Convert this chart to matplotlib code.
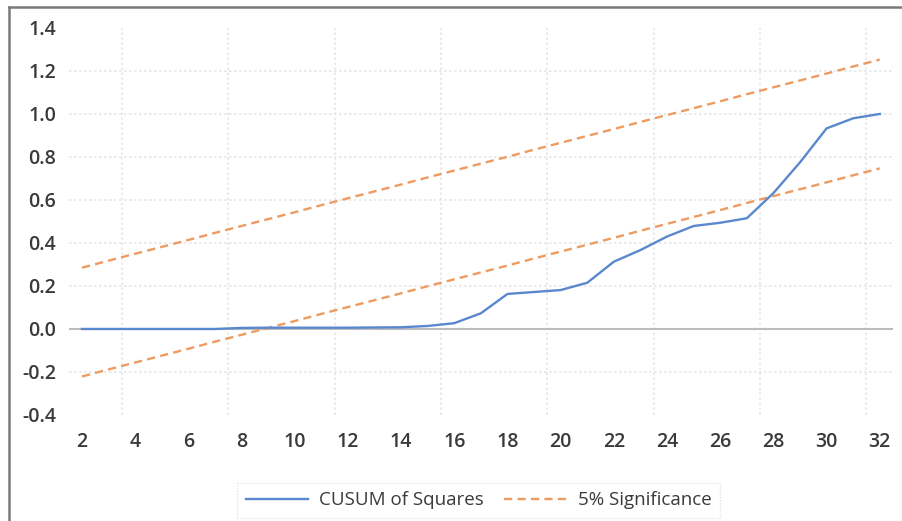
import matplotlib

matplotlib.use("Agg")
import matplotlib.pyplot as plt
from matplotlib.lines import Line2D

plt.rcParams["font.family"] = ["Open Sans", "DejaVu Sans"]

# Daten
periods = list(range(2, 33))
cusum_sq = [0.0, 0.0, 0.0, 0.0, 0.0, 0.0, 0.005, 0.006, 0.006, 0.006,
            0.006, 0.007, 0.008, 0.014, 0.027, 0.073, 0.163, 0.172, 0.181, 0.215,
            0.313, 0.367, 0.43, 0.479, 0.494, 0.515, 0.632, 0.775, 0.933, 0.98,
            1.0]
upper_5 = [0.285, 0.318, 0.350, 0.382, 0.414, 0.447, 0.479, 0.511, 0.543, 0.576,
           0.608, 0.640, 0.672, 0.705, 0.737, 0.769, 0.801, 0.834, 0.866, 0.898,
           0.930, 0.963, 0.995, 1.027, 1.059, 1.092, 1.124, 1.156, 1.188, 1.221,
           1.253]
lower_5 = [-0.221, -0.188, -0.156, -0.124, -0.092, -0.059, -0.027, 0.005, 0.037, 0.070,
           0.102, 0.134, 0.166, 0.199, 0.231, 0.263, 0.295, 0.328, 0.360, 0.392,
           0.424, 0.457, 0.489, 0.521, 0.553, 0.586, 0.618, 0.650, 0.682, 0.715,
           0.747]
y_ticks = [-0.4, -0.2, 0.0, 0.2, 0.4, 0.6, 0.8, 1.0, 1.2, 1.4]
x_ticks = list(range(2, 33, 2))

BLUE = "#5a88cf"
ORANGE = "#ee9b62"
TXT = "#3a3a3a"
GRID = "#e6e6e6"

fig = plt.figure(figsize=(9.03, 5.21), dpi=100)
ax = fig.add_axes([0.0761, 0.2035, 0.989 - 0.0761, 0.7428])

# Gitter: horizontal gepunktet, Nulllinie durchgezogen
for yv in y_ticks:
    if yv == 0.0:
        ax.axhline(yv, color="#bcbcbc", lw=1.5, zorder=1)
    elif -0.4 < yv < 1.4:
        ax.axhline(yv, color=GRID, lw=1.2, ls=(0, (1.5, 1.5)), zorder=0)
# vertikale Linien zwischen den Kategorien, alle 4 Perioden
for xv in range(4, 33, 4):
    ax.axvline(xv - 0.5, color=GRID, lw=1.2, ls=(0, (1.5, 1.5)), zorder=0)

ax.plot(periods, cusum_sq, color=BLUE, lw=1.7, label="CUSUM of Squares", zorder=3)
ax.plot(periods, upper_5, color=ORANGE, lw=1.7, ls=(0, (3.5, 2.2)),
        label="5% Significance", zorder=2)
ax.plot(periods, lower_5, color=ORANGE, lw=1.7, ls=(0, (3.5, 2.2)), zorder=2)

ax.set_xlim(1.5, 32.5)
ax.set_ylim(-0.4, 1.4)
ax.set_xticks(x_ticks)
ax.set_yticks(y_ticks)
ax.set_yticklabels([f"{v:.1f}" for v in y_ticks])
ax.tick_params(axis="both", length=0, labelsize=14, colors=TXT)
ax.tick_params(axis="x", pad=12)
ax.tick_params(axis="y", pad=9)
for lbl in ax.get_xticklabels() + ax.get_yticklabels():
    lbl.set_fontweight("semibold")
for sp in ax.spines.values():
    sp.set_visible(False)

leg = fig.legend(loc="center", bbox_to_anchor=(0.53, 0.040), ncol=2,
                 fontsize=13.5, frameon=True, fancybox=False,
                 handlelength=3.3, columnspacing=1.1, handletextpad=0.6,
                 borderpad=0.45)
leg.get_frame().set_edgecolor("#e0e0e0")
leg.get_frame().set_linestyle((0, (1, 1)))
for t in leg.get_texts():
    t.set_color(TXT)

# Rahmen links/oben wie im Screenshot
fig.add_artist(Line2D([9 / 903, 9 / 903], [0, 1 - 7 / 521], color="#7a7a7a", lw=1.8))
fig.add_artist(Line2D([9 / 903, 1], [1 - 7 / 521, 1 - 7 / 521], color="#7a7a7a", lw=1.8))

fig.savefig("out.png", dpi=100)
